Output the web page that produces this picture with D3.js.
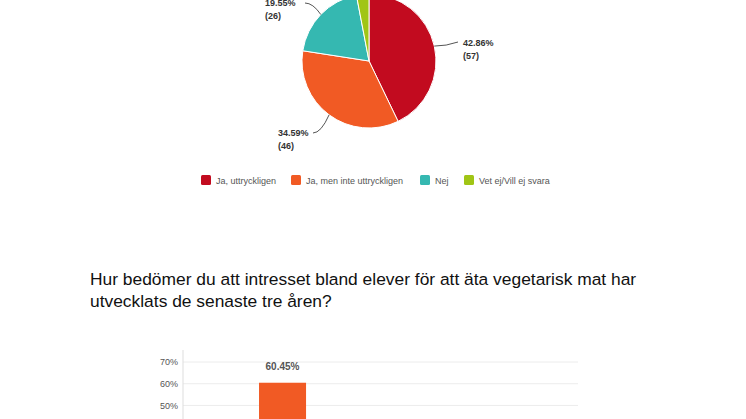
<!DOCTYPE html>
<html><head><meta charset="utf-8">
<script src="https://cdn.jsdelivr.net/npm/d3@7"></script>
<style>body{margin:0;background:#fff}</style></head>
<body><svg id="c" width="746" height="419"></svg>
<script>
const pieLabels=["Ja, uttryckligen","Ja, men inte uttryckligen","Nej","Vet ej/Vill ej svara"];
const pieCounts=[57,46,26,4];
const piePct=["42.86%","34.59%","19.55%","3.01%"];
const pieColors=["#c20b1f","#f15a24","#35b8b1","#a0c515"];
const barCats=["Ökat","Oförändrat","Minskat"];
const barVals=[60.45,33.58,5.97];
const barTicks=[0,10,20,30,40,50,60,70];
const title=["Hur bedömer du att intresset bland elever för att äta vegetarisk mat har","utvecklats de senaste tre åren?"];

const svg=d3.select("#c");
const F="'Liberation Sans', Arial, sans-serif";
const cx=369,cy=61,R=67;
const pie=d3.pie().sort(null)(pieCounts);
const arc=d3.arc().innerRadius(0).outerRadius(R);
const g=svg.append("g").attr("transform",`translate(${cx},${cy})`);
g.selectAll("path").data(pie).join("path").attr("d",arc).attr("fill",(d,i)=>pieColors[i]).attr("stroke","#fff").attr("stroke-width",1);
const lab=[{i:0,x:463,y:46},{i:1,x:278,y:136},{i:2,x:265,y:6}];
lab.forEach(l=>{
  const d=pie[l.i];const a=(d.startAngle+d.endAngle)/2;
  const px=cx+Math.sin(a)*R, py=cy-Math.cos(a)*R;
  const ex = l.i===0? l.x-5 : l.i===1? l.x+35 : l.x+40;
  const ey = l.i===0? l.y-4 : l.y-3;
  svg.append("path").attr("d",`M${px},${py} Q${(px+ex)/2},${l.i===0?py:ey} ${ex},${ey}`).attr("fill","none").attr("stroke","#555").attr("stroke-width",1);
  svg.append("text").attr("x",l.x).attr("y",l.y).attr("font-family",F).attr("font-size",9).attr("font-weight","bold").attr("fill","#333").text(piePct[l.i]);
  svg.append("text").attr("x",l.x).attr("y",l.y+13).attr("font-family",F).attr("font-size",9).attr("font-weight","bold").attr("fill","#333").text("("+pieCounts[l.i]+")");
});
const lx=[201,291,420,464];
pieLabels.forEach((t,i)=>{
  svg.append("rect").attr("x",lx[i]).attr("y",175).attr("width",10).attr("height",10).attr("rx",1.5).attr("fill",pieColors[i]);
  svg.append("text").attr("x",lx[i]+15).attr("y",184).attr("font-family",F).attr("font-size",9).attr("fill","#555").text(t);
});
title.forEach((t,i)=>svg.append("text").attr("x",90).attr("y",285+i*22).attr("font-family",F).attr("font-size",17.4).attr("fill","#111").text(t));
const y=d3.scaleLinear().domain([0,70]).range([514,362]);
const x=d3.scaleBand().domain(barCats).range([183,578]).paddingInner(0.52).paddingOuter(0.776);
const gridG=svg.append("g");
barTicks.forEach(t=>gridG.append("line").attr("x1",183).attr("x2",578).attr("y1",y(t)).attr("y2",y(t)).attr("stroke","#ececec"));
svg.append("g").attr("transform","translate(183,0)").call(d3.axisLeft(y).tickValues(barTicks).tickFormat(d=>d+"%").tickSize(0).tickPadding(5))
 .call(a=>{a.select(".domain").attr("stroke","#ddd").attr("d","M0,350V514");a.selectAll("text").attr("font-family",F).attr("font-size",9).attr("fill","#555");});
svg.selectAll(".bar").data(barVals).join("rect").attr("x",(d,i)=>x(barCats[i])).attr("width",x.bandwidth()).attr("y",d=>y(d)).attr("height",d=>514-y(d)).attr("fill","#f15a24");
svg.selectAll(".bl").data(barVals).join("text").attr("x",(d,i)=>x(barCats[i])+x.bandwidth()/2).attr("y",d=>y(d)-13).attr("text-anchor","middle").attr("font-family",F).attr("font-size",10).attr("font-weight","bold").attr("fill","#555").text(d=>d.toFixed(2)+"%");
</script></body></html>
